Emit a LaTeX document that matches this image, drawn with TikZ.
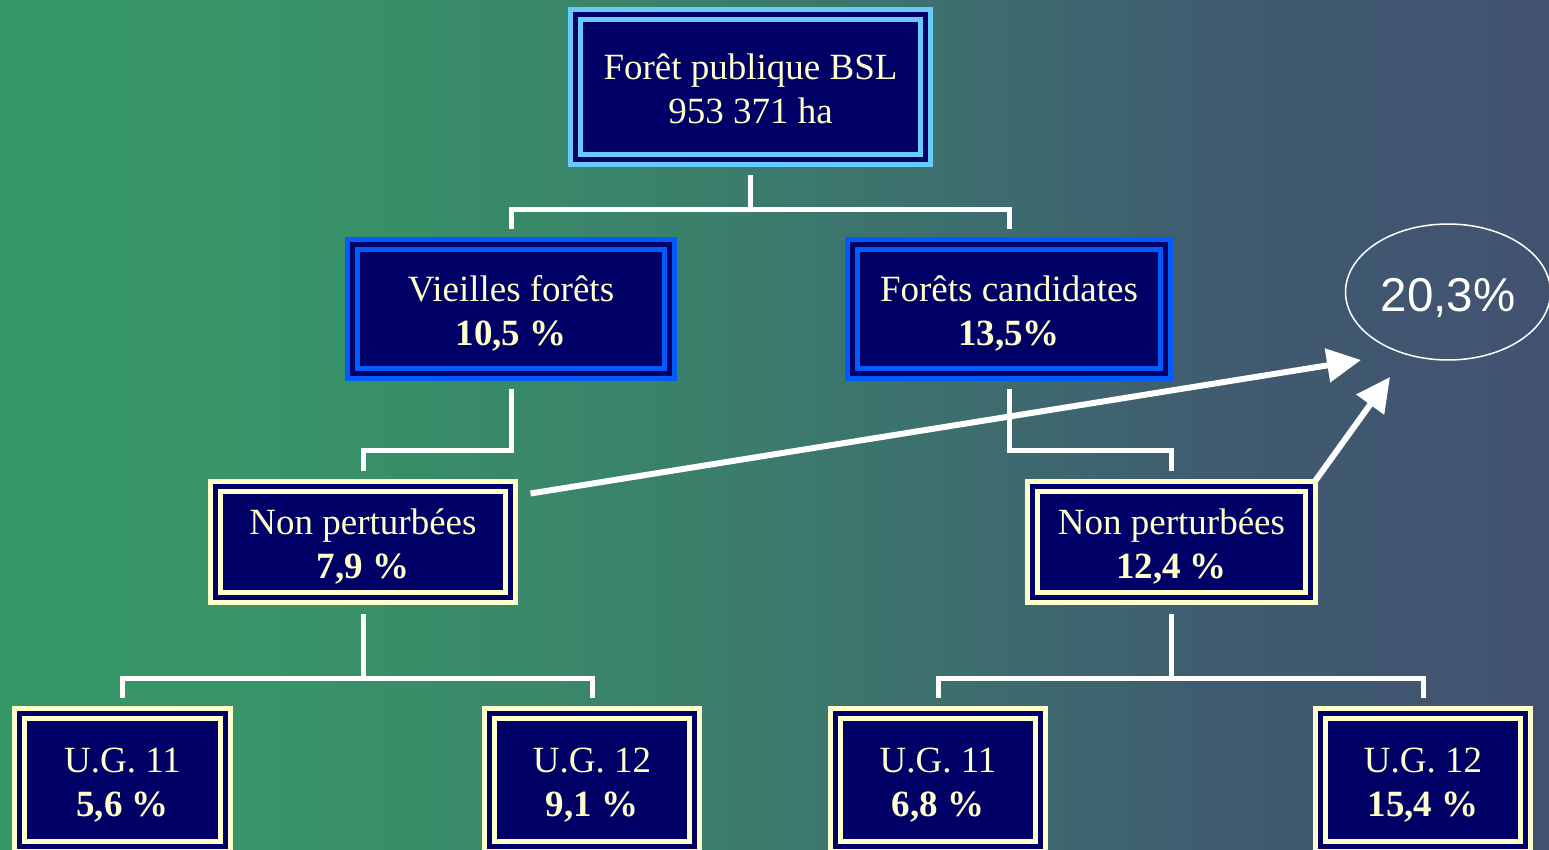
\documentclass[tikz,border=0pt]{standalone}
\usepackage{fontspec}
\usetikzlibrary{calc,shapes.geometric,arrows.meta}
\newfontfamily\boxfont{Liberation Serif}
\newfontfamily\ellfont{Liberation Sans}
\definecolor{navy}{RGB}{0,0,102}
\definecolor{cream}{RGB}{255,255,204}
\definecolor{lblue}{RGB}{102,204,255}
\definecolor{vblue}{RGB}{0,92,255}
\definecolor{bgA}{RGB}{54,152,102}
\definecolor{bgB}{RGB}{56,146,104}
\definecolor{bgC}{RGB}{58,132,106}
\definecolor{bgD}{RGB}{61,112,110}
\definecolor{bgE}{RGB}{64,90,112}
\definecolor{bgF}{RGB}{65,82,113}
\pgfdeclarehorizontalshading{bgshade}{100bp}{color(0bp)=(bgA); color(25bp)=(bgA); color(35bp)=(bgB); color(45bp)=(bgC); color(55bp)=(bgD); color(65bp)=(bgE); color(75bp)=(bgF); color(100bp)=(bgF)}
\newcommand\tlines[2]{\rule{0pt}{37pt}#1\\#2\rule[-8pt]{0pt}{8pt}}
\tikzset{
  framebox/.style={draw=#1, double=navy, double distance=5pt, line width=5pt,
    fill=navy, inner sep=0pt, align=center, text=cream,
    font=\boxfont\fontsize{37}{44}\selectfont},
  conn/.style={draw=white, line width=5pt},
  bigarrow/.style={draw=white, line width=6pt, -{Triangle[length=34pt,width=33pt]}}
}
\begin{document}
\begin{tikzpicture}[x=1pt,y=-1pt]
\useasboundingbox (0,0) rectangle (1549,850);
\clip (0,0) rectangle (1549,850);
\shade[shading=bgshade] (0,0) rectangle (1549,850);

% nodes
\node[framebox=lblue, minimum width=350pt, minimum height=145pt] (top) at (750.5,87) {\tlines{Forêt publique BSL}{953 371 ha}};
\node[framebox=vblue, minimum width=317pt, minimum height=129pt] (v1) at (511,309) {\tlines{Vieilles forêts}{\textbf{10,5 \%}}};
\node[framebox=vblue, minimum width=313pt, minimum height=129pt] (c1) at (1009,309) {\tlines{Forêts candidates}{\textbf{13,5\%}}};
\node[framebox=cream, minimum width=295pt, minimum height=111pt] (np1) at (363,542) {\tlines{Non perturbées}{\textbf{7,9 \%}}};
\node[framebox=cream, minimum width=278pt, minimum height=111pt] (np2) at (1171.5,542) {\tlines{Non perturbées}{\textbf{12,4 \%}}};
\node[framebox=cream, minimum width=206pt, minimum height=133pt] (ug1) at (122.5,780) {\tlines{U.G. 11}{\textbf{5,6 \%}}};
\node[framebox=cream, minimum width=205pt, minimum height=133pt] (ug2) at (592,780) {\tlines{U.G. 12}{\textbf{9,1 \%}}};
\node[framebox=cream, minimum width=205pt, minimum height=133pt] (ug3) at (938,780) {\tlines{U.G. 11}{\textbf{6,8 \%}}};
\node[framebox=cream, minimum width=205pt, minimum height=133pt] (ug4) at (1423,780) {\tlines{U.G. 12}{\textbf{15,4 \%}}};
\node[ellipse, draw=white, line width=1.5pt, minimum width=205pt, minimum height=136pt, inner sep=0pt,
      text=white, font=\ellfont\fontsize{47.5}{56}\selectfont] (tot) at (1448,292) {\raisebox{-19pt}[0pt][0pt]{20,3\%}};

% connectors
\draw[conn] ($(top.south)+(0,13.5)$) -- ++(0,34.5) coordinate (j1);
\draw[conn] ($(v1.north)+(0,-12.5)$) |- (j1) -| ($(c1.north)+(0,-12.5)$);

\draw[conn] ($(v1.south)+(0,12.5)$) -- ++(0,62) -| ($(np1.north)+(0,-13.5)$);
\draw[conn] ($(c1.south)+(0,12.5)$) -- ++(0,62) -| ($(np2.north)+(0,-13.5)$);

\draw[conn] ($(np1.south)+(0,13.5)$) -- ++(0,65) coordinate (j3);
\draw[conn] ($(ug1.north)+(0,-13.5)$) |- (j3) -| ($(ug2.north)+(0,-13.5)$);
\draw[conn] ($(np2.south)+(0,13.5)$) -- ++(0,65) coordinate (j4);
\draw[conn] ($(ug3.north)+(0,-13.5)$) |- (j4) -| ($(ug4.north)+(0,-13.5)$);

% arrows to total
\coordinate (a1s) at ($(np1.north east)+(17.5,9.5)$);
\coordinate (a1e) at (1361,360);
\coordinate (a2s) at ($(np2.north east)+(2.5,-3.5)$);
\coordinate (a2e) at (1390,377);
\draw[bigarrow] (a1s) -- (a1e);
\draw[bigarrow] (a2s) -- (a2e);
\end{tikzpicture}
\end{document}
